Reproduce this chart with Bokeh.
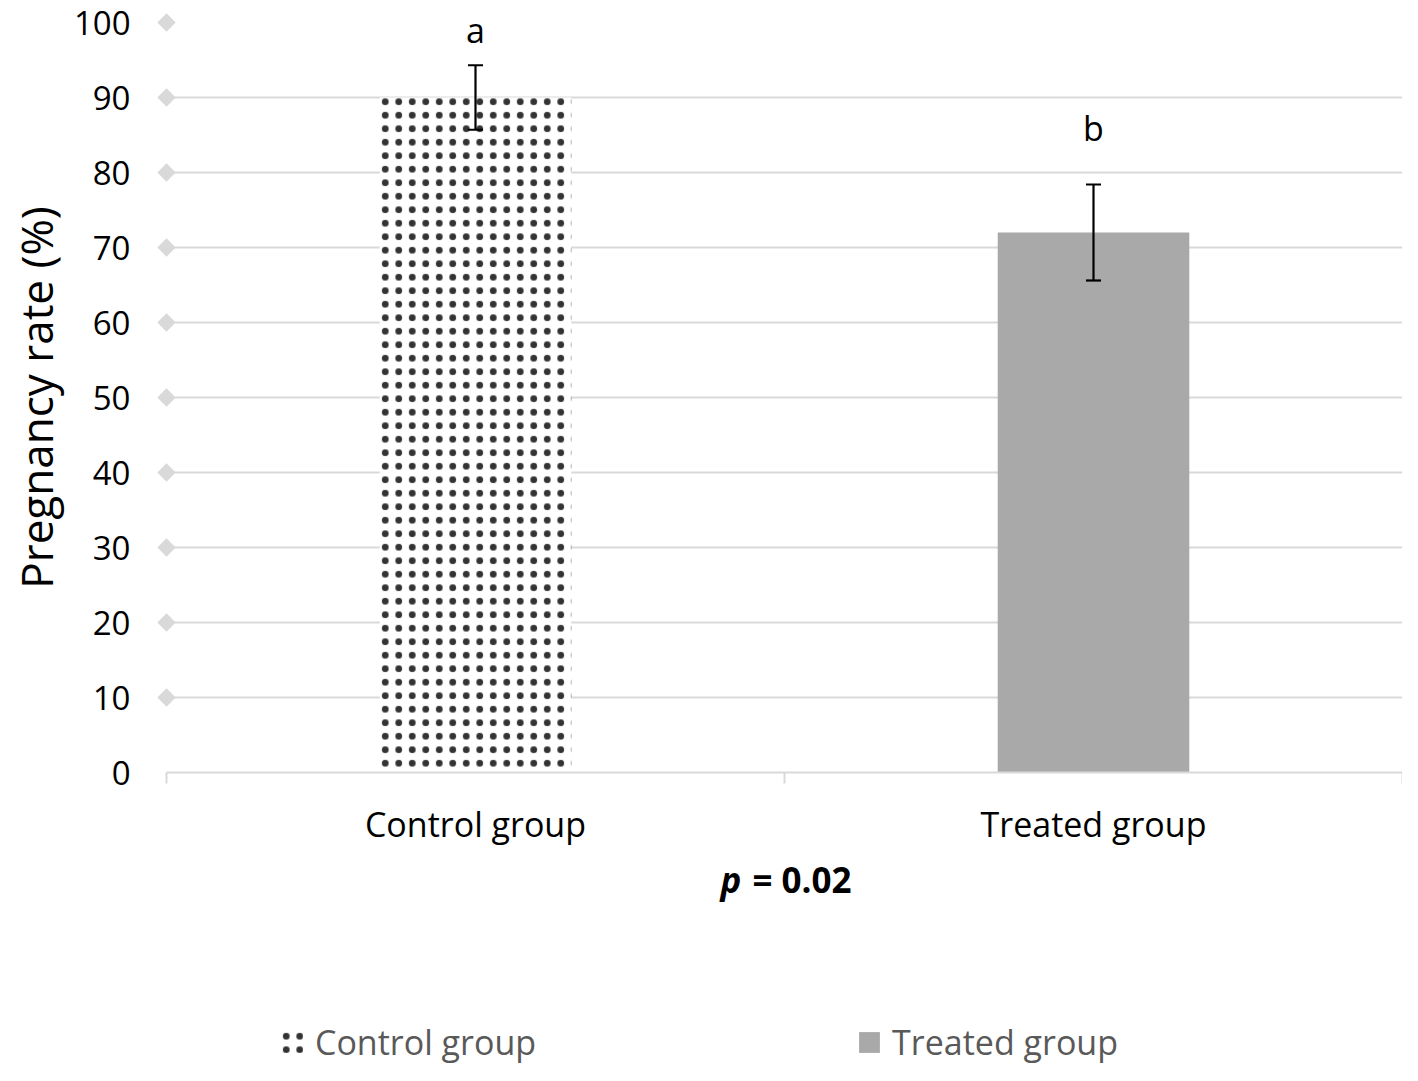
import math
from bokeh.plotting import figure
from bokeh.layouts import column
from bokeh.models import (ColumnDataSource, Whisker, TeeHead, Label, Legend,
                          LegendItem, FixedTicker, Range1d)
from bokeh.core.properties import value
from bokeh.embed import file_html
from bokeh.resources import INLINE

# ---- data ----
categories = ["Control group", "Treated group"]
rates = [90, 72]
errors = [4.3, 6.4]
letters = ["a", "b"]
letter_y = [99.0, 85.9]
y_ticks = [0, 10, 20, 30, 40, 50, 60, 70, 80, 90, 100]
p_value = "0.02"

FONT = "Open Sans"
GRID = "#d9d9d9"
BAR_GREY = "#a9a9a9"

xc = [i + 0.5 for i in range(len(categories))]
src = ColumnDataSource(dict(
    x=xc, top=rates,
    upper=[r + e for r, e in zip(rates, errors)],
    lower=[r - e for r, e in zip(rates, errors)],
    letter=letters, ly=letter_y,
))

W = 1402
H_MAIN = 857
H_BOTTOM = 208

x_range = Range1d(0, len(categories))
p = figure(width=W, height=H_MAIN, output_backend="svg", toolbar_location=None,
           x_range=x_range, y_range=Range1d(y_ticks[0], y_ticks[-1]),
           min_border_left=166, min_border_right=0, min_border_top=22,
           min_border_bottom=85)
p.outline_line_color = None

# grid
p.xgrid.visible = False
p.ygrid.ticker = FixedTicker(ticks=y_ticks)
p.ygrid.grid_line_color = GRID
p.ygrid.grid_line_width = 2

# bars
hatch_kw = dict(fill_color="white", line_color=None, hatch_pattern="dot",
                hatch_color="black", hatch_alpha=0.8, hatch_scale=13.5,
                hatch_weight=0.8)
grey_kw = dict(fill_color=BAR_GREY, line_color=None)
p.vbar(x=[xc[0]], top=[rates[0]], width=0.31, **hatch_kw)
p.vbar(x=[xc[1]], top=[rates[1]], width=0.31, **grey_kw)

# error bars
w = Whisker(source=src, base="x", upper="upper", lower="lower",
            line_color="black", line_width=2.2, level="overlay",
            upper_head=TeeHead(size=15, line_width=2.2, line_color="black"),
            lower_head=TeeHead(size=15, line_width=2.2, line_color="black"))
p.add_layout(w)

# significance letters
p.text(x="x", y="ly", text="letter", source=src, text_align="center",
       text_baseline="alphabetic", text_font=value(FONT),
       text_font_size="34px", text_color="black")

# diamonds on gridlines
p.scatter(x=[0] * (len(y_ticks) - 1), y=y_ticks[1:], marker="square",
          angle=math.pi / 4, size=13, fill_color=GRID, line_color=None,
          level="overlay")

# y axis
ya = p.yaxis[0]
ya.ticker = FixedTicker(ticks=y_ticks)
ya.axis_line_color = None
ya.major_tick_line_color = None
ya.minor_tick_line_color = None
ya.major_tick_out = 0
ya.major_label_standoff = 36
ya.major_label_text_font = FONT
ya.major_label_text_font_size = "33px"
ya.major_label_text_color = "black"
ya.axis_label = "Pregnancy rate (%)"
ya.axis_label_text_font = FONT
ya.axis_label_text_font_size = "44px"
ya.axis_label_text_font_style = "normal"
ya.axis_label_text_color = "black"
ya.axis_label_standoff = 5

# x axis
xa = p.xaxis[0]
xa.ticker = FixedTicker(ticks=xc, minor_ticks=list(range(len(categories) + 1)))
xa.major_label_overrides = {xc[i]: categories[i] for i in range(len(categories))}
xa.axis_line_color = GRID
xa.axis_line_width = 2
xa.major_tick_line_color = None
xa.major_tick_out = 0
xa.major_tick_in = 0
xa.minor_tick_line_color = GRID
xa.minor_tick_line_width = 2
xa.minor_tick_out = 11
xa.minor_tick_in = 0
xa.major_label_standoff = 17
xa.major_label_text_font = FONT
xa.major_label_text_font_size = "34px"
xa.major_label_text_color = "black"

# ---- bottom strip: p-value and legend ----
q = figure(width=W, height=H_BOTTOM, output_backend="svg", toolbar_location=None,
           x_range=x_range, y_range=Range1d(0, H_BOTTOM),
           min_border_left=166, min_border_right=0, min_border_top=0,
           min_border_bottom=0, x_axis_location=None, y_axis_location=None)
q.outline_line_color = None
q.grid.visible = False

mid = len(categories) / 2
p_y = H_BOTTOM - 22
q.add_layout(Label(x=mid, y=p_y, x_offset=-64, text="p",
                   text_align="left", text_baseline="alphabetic",
                   text_font=FONT, text_font_size="35px",
                   text_font_style="bold italic", text_color="black"))
q.add_layout(Label(x=mid, y=p_y, x_offset=-32, text="= " + p_value,
                   text_align="left", text_baseline="alphabetic",
                   text_font=FONT, text_font_size="35px",
                   text_font_style="bold", text_color="black"))

# legend proxies (zero-height bars, nothing visible in the strip)
lr0 = q.vbar(x=[xc[0]], top=[0], bottom=[0], width=0.31, **hatch_kw)
lr1 = q.vbar(x=[xc[1]], top=[0], bottom=[0], width=0.31, **grey_kw)
legend = Legend(items=[LegendItem(label=categories[0], renderers=[lr0]),
                       LegendItem(label=categories[1], renderers=[lr1])],
                location=(113, 0), orientation="horizontal", spacing=320,
                padding=0, margin=0, border_line_color=None,
                background_fill_alpha=0, label_text_font=FONT,
                label_text_font_size="34px", label_text_color="#595959",
                glyph_width=26, glyph_height=26, label_standoff=10,
                label_height=20)
q.add_layout(legend, "center")

layout = column(p, q, spacing=0)
open("out.html", "w").write(file_html(layout, INLINE))
